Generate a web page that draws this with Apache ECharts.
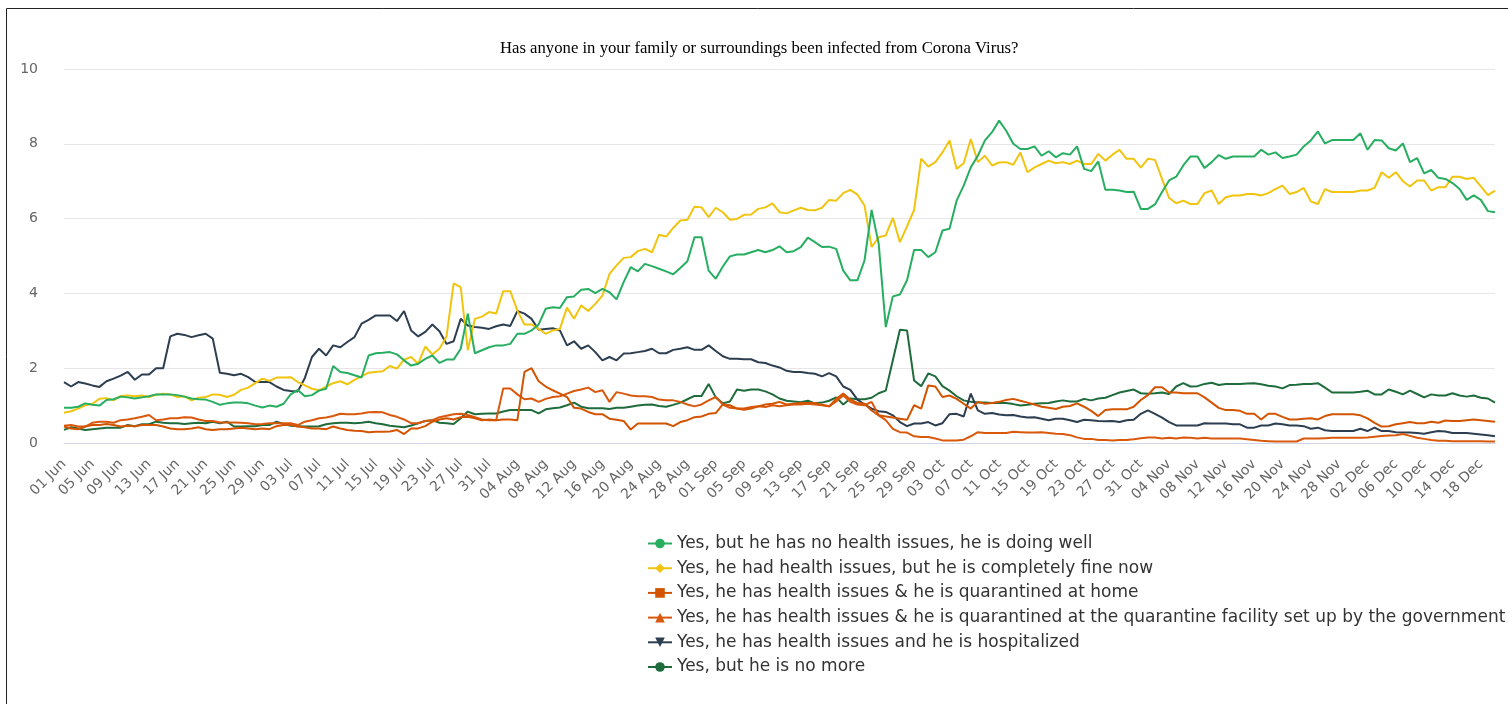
<!DOCTYPE html>
<html>
<head>
<meta charset="utf-8">
<title>Corona Virus survey</title>
<script src="https://cdn.jsdelivr.net/npm/echarts@6/dist/echarts.min.js"></script>
<style>
  html, body { margin: 0; padding: 0; background: #fff; }
  #chart { width: 1508px; height: 704px; }
</style>
</head>
<body>
<div id="chart"></div>
<script>
// daily points, 01 Jun .. 20 Dec
const startDay = Date.UTC(2020, 5, 1);
const dayCount = 203;
const monthNames = ['Jan', 'Feb', 'Mar', 'Apr', 'May', 'Jun', 'Jul', 'Aug', 'Sep', 'Oct', 'Nov', 'Dec'];

const seriesNames = [
  'Yes, but he has no health issues, he is doing well',
  'Yes, he had health issues, but he is completely fine now',
  'Yes, he has health issues & he is quarantined at home',
  'Yes, he has health issues & he is quarantined at the quarantine facility set up by the government',
  'Yes, he has health issues and he is hospitalized',
  'Yes, but he is no more'
];

const doingWell = [
  0.94, 0.94, 0.97, 1.06, 1.02, 1.00, 1.15, 1.17, 1.24, 1.22,
  1.19, 1.22, 1.25, 1.30, 1.30, 1.30, 1.28, 1.24, 1.19, 1.17,
  1.16, 1.10, 1.02, 1.06, 1.08, 1.08, 1.06, 1.00, 0.95, 1.00,
  0.97, 1.05, 1.30, 1.42, 1.25, 1.28, 1.40, 1.45, 2.06, 1.90,
  1.87, 1.81, 1.75, 2.34, 2.40, 2.41, 2.43, 2.37, 2.21, 2.07,
  2.12, 2.25, 2.34, 2.14, 2.23, 2.23, 2.52, 3.46, 2.40, 2.48,
  2.56, 2.61, 2.61, 2.65, 2.92, 2.92, 3.01, 3.17, 3.59, 3.63,
  3.61, 3.90, 3.92, 4.10, 4.12, 4.01, 4.12, 4.03, 3.84, 4.30,
  4.70, 4.59, 4.79, 4.73, 4.66, 4.59, 4.51, 4.68, 4.86, 5.50,
  5.50, 4.61, 4.39, 4.72, 4.99, 5.04, 5.04, 5.10, 5.16, 5.10,
  5.16, 5.26, 5.10, 5.13, 5.24, 5.49, 5.37, 5.24, 5.25, 5.19,
  4.61, 4.35, 4.35, 4.88, 6.23, 5.33, 3.10, 3.92, 3.97, 4.35,
  5.16, 5.16, 4.97, 5.10, 5.68, 5.73, 6.48, 6.88, 7.37, 7.68,
  8.09, 8.31, 8.62, 8.35, 8.00, 7.86, 7.86, 7.93, 7.68, 7.80,
  7.64, 7.75, 7.71, 7.93, 7.33, 7.27, 7.53, 6.77, 6.77, 6.75,
  6.71, 6.72, 6.26, 6.26, 6.38, 6.71, 7.02, 7.12, 7.42, 7.66,
  7.66, 7.35, 7.51, 7.70, 7.60, 7.66, 7.66, 7.66, 7.66, 7.84,
  7.71, 7.77, 7.62, 7.66, 7.71, 7.93, 8.09, 8.33, 8.01, 8.10,
  8.10, 8.10, 8.10, 8.28, 7.84, 8.10, 8.09, 7.88, 7.82, 8.01,
  7.51, 7.62, 7.21, 7.30, 7.09, 7.06, 6.95, 6.79, 6.50, 6.62,
  6.50, 6.20, 6.17
];

const fineNow = [
  0.81, 0.85, 0.92, 1.01, 1.05, 1.18, 1.20, 1.14, 1.26, 1.27,
  1.25, 1.27, 1.23, 1.29, 1.32, 1.30, 1.23, 1.25, 1.14, 1.21,
  1.23, 1.30, 1.29, 1.23, 1.29, 1.42, 1.48, 1.60, 1.72, 1.66,
  1.75, 1.75, 1.76, 1.63, 1.54, 1.45, 1.41, 1.51, 1.60, 1.65,
  1.57, 1.69, 1.78, 1.88, 1.90, 1.92, 2.06, 1.99, 2.23, 2.30,
  2.12, 2.58, 2.37, 2.52, 2.85, 4.27, 4.17, 2.48, 3.32, 3.38,
  3.50, 3.46, 4.06, 4.06, 3.54, 3.17, 3.17, 3.05, 2.92, 3.01,
  3.05, 3.62, 3.32, 3.68, 3.53, 3.72, 3.94, 4.52, 4.75, 4.95,
  4.97, 5.13, 5.19, 5.10, 5.57, 5.52, 5.75, 5.95, 5.97, 6.32,
  6.30, 6.04, 6.29, 6.17, 5.97, 5.99, 6.10, 6.11, 6.26, 6.30,
  6.41, 6.17, 6.14, 6.22, 6.29, 6.23, 6.22, 6.29, 6.50, 6.48,
  6.68, 6.77, 6.64, 6.35, 5.24, 5.50, 5.55, 6.02, 5.37, 5.79,
  6.23, 7.60, 7.39, 7.51, 7.77, 8.09, 7.33, 7.48, 8.13, 7.51,
  7.68, 7.42, 7.50, 7.51, 7.44, 7.77, 7.24, 7.37, 7.46, 7.55,
  7.48, 7.51, 7.46, 7.55, 7.46, 7.46, 7.73, 7.55, 7.71, 7.84,
  7.60, 7.60, 7.36, 7.60, 7.57, 7.06, 6.55, 6.41, 6.48, 6.39,
  6.39, 6.68, 6.75, 6.39, 6.57, 6.62, 6.62, 6.66, 6.66, 6.62,
  6.68, 6.79, 6.88, 6.66, 6.71, 6.82, 6.46, 6.39, 6.79, 6.71,
  6.71, 6.71, 6.71, 6.75, 6.75, 6.82, 7.24, 7.09, 7.24, 7.00,
  6.86, 7.02, 7.02, 6.75, 6.84, 6.84, 7.12, 7.12, 7.06, 7.09,
  6.86, 6.63, 6.75
];

const atHome = [
  0.44, 0.39, 0.37, 0.44, 0.48, 0.48, 0.51, 0.48, 0.44, 0.46,
  0.45, 0.48, 0.48, 0.48, 0.44, 0.39, 0.37, 0.37, 0.39, 0.42,
  0.37, 0.35, 0.37, 0.37, 0.39, 0.41, 0.39, 0.37, 0.39, 0.37,
  0.45, 0.48, 0.48, 0.44, 0.42, 0.39, 0.39, 0.37, 0.44, 0.39,
  0.35, 0.33, 0.32, 0.29, 0.30, 0.30, 0.31, 0.35, 0.24, 0.39,
  0.39, 0.45, 0.57, 0.63, 0.66, 0.63, 0.69, 0.70, 0.66, 0.61,
  0.63, 0.61, 0.63, 0.63, 0.61, 1.90, 2.00, 1.65, 1.51, 1.41,
  1.32, 1.23, 0.94, 0.92, 0.83, 0.77, 0.77, 0.65, 0.62, 0.59,
  0.36, 0.52, 0.52, 0.52, 0.52, 0.52, 0.45, 0.56, 0.61, 0.69,
  0.71, 0.78, 0.80, 1.03, 1.01, 0.92, 0.89, 0.92, 0.98, 1.03,
  1.05, 1.10, 1.03, 1.05, 1.07, 1.07, 1.07, 1.02, 0.98, 1.18,
  1.32, 1.16, 1.07, 1.05, 0.87, 0.74, 0.71, 0.68, 0.65, 0.62,
  1.01, 0.92, 1.54, 1.51, 1.23, 1.27, 1.18, 1.05, 0.92, 1.10,
  1.05, 1.07, 1.10, 1.15, 1.18, 1.13, 1.08, 1.03, 0.97, 0.94,
  0.91, 0.97, 0.99, 1.06, 0.97, 0.86, 0.72, 0.88, 0.90, 0.90,
  0.90, 0.97, 1.15, 1.28, 1.49, 1.49, 1.35, 1.35, 1.33, 1.33,
  1.33, 1.22, 1.08, 0.94, 0.88, 0.88, 0.86, 0.78, 0.78, 0.63,
  0.78, 0.78, 0.70, 0.63, 0.63, 0.65, 0.66, 0.63, 0.72, 0.77,
  0.77, 0.77, 0.77, 0.74, 0.66, 0.54, 0.44, 0.45, 0.50, 0.53,
  0.56, 0.53, 0.53, 0.57, 0.54, 0.60, 0.59, 0.59, 0.61, 0.63,
  0.61, 0.59, 0.57
];

const atFacility = [
  0.46, 0.48, 0.44, 0.44, 0.54, 0.57, 0.57, 0.54, 0.61, 0.63,
  0.66, 0.70, 0.75, 0.61, 0.63, 0.66, 0.66, 0.69, 0.68, 0.63,
  0.59, 0.59, 0.55, 0.55, 0.55, 0.54, 0.53, 0.50, 0.51, 0.53,
  0.53, 0.53, 0.53, 0.48, 0.57, 0.61, 0.66, 0.68, 0.72, 0.78,
  0.77, 0.77, 0.79, 0.82, 0.83, 0.82, 0.75, 0.70, 0.63, 0.53,
  0.53, 0.59, 0.61, 0.69, 0.73, 0.77, 0.78, 0.75, 0.69, 0.63,
  0.61, 0.61, 1.46, 1.46, 1.30, 1.17, 1.19, 1.10, 1.18, 1.23,
  1.25, 1.32, 1.39, 1.43, 1.48, 1.36, 1.41, 1.10, 1.36, 1.32,
  1.27, 1.25, 1.25, 1.23, 1.16, 1.14, 1.14, 1.10, 1.03, 0.98,
  1.03, 1.14, 1.23, 1.03, 0.94, 0.92, 0.92, 0.96, 0.98, 0.96,
  1.01, 0.98, 1.01, 1.03, 1.03, 1.05, 1.03, 1.01, 0.98, 1.11,
  1.27, 1.10, 1.03, 1.01, 1.10, 0.74, 0.61, 0.38, 0.29, 0.28,
  0.18, 0.16, 0.16, 0.12, 0.07, 0.07, 0.07, 0.09, 0.18, 0.29,
  0.27, 0.27, 0.27, 0.27, 0.30, 0.29, 0.28, 0.28, 0.29, 0.27,
  0.25, 0.24, 0.21, 0.15, 0.11, 0.11, 0.08, 0.08, 0.07, 0.08,
  0.08, 0.10, 0.13, 0.15, 0.15, 0.12, 0.14, 0.12, 0.15, 0.14,
  0.12, 0.14, 0.12, 0.12, 0.12, 0.12, 0.12, 0.10, 0.08, 0.06,
  0.05, 0.04, 0.04, 0.04, 0.04, 0.12, 0.12, 0.12, 0.13, 0.14,
  0.14, 0.14, 0.14, 0.14, 0.15, 0.17, 0.19, 0.20, 0.21, 0.24,
  0.19, 0.14, 0.11, 0.08, 0.06, 0.06, 0.05, 0.05, 0.05, 0.05,
  0.05, 0.04, 0.04
];

const hospitalized = [
  1.63, 1.51, 1.63, 1.59, 1.54, 1.50, 1.65, 1.72, 1.80, 1.90,
  1.69, 1.83, 1.83, 2.00, 2.00, 2.85, 2.92, 2.89, 2.83, 2.88,
  2.92, 2.79, 1.88, 1.85, 1.81, 1.85, 1.76, 1.63, 1.63, 1.63,
  1.51, 1.42, 1.39, 1.38, 1.74, 2.30, 2.52, 2.34, 2.61, 2.56,
  2.70, 2.83, 3.19, 3.29, 3.41, 3.41, 3.41, 3.26, 3.53, 3.01,
  2.85, 2.97, 3.17, 2.99, 2.65, 2.72, 3.32, 3.14, 3.10, 3.08,
  3.05, 3.12, 3.17, 3.13, 3.53, 3.46, 3.32, 3.03, 3.05, 3.07,
  3.01, 2.61, 2.72, 2.52, 2.61, 2.43, 2.21, 2.30, 2.21, 2.39,
  2.40, 2.43, 2.46, 2.52, 2.40, 2.40, 2.49, 2.52, 2.56, 2.49,
  2.49, 2.61, 2.46, 2.32, 2.25, 2.25, 2.24, 2.24, 2.16, 2.14,
  2.07, 2.02, 1.93, 1.90, 1.90, 1.87, 1.85, 1.78, 1.87, 1.78,
  1.51, 1.42, 1.16, 1.03, 0.92, 0.85, 0.83, 0.74, 0.56, 0.45,
  0.52, 0.52, 0.56, 0.47, 0.53, 0.77, 0.78, 0.71, 1.32, 0.87,
  0.78, 0.80, 0.76, 0.74, 0.75, 0.71, 0.68, 0.69, 0.65, 0.61,
  0.65, 0.65, 0.61, 0.56, 0.62, 0.61, 0.59, 0.58, 0.59, 0.56,
  0.61, 0.62, 0.78, 0.87, 0.78, 0.68, 0.56, 0.47, 0.47, 0.47,
  0.47, 0.53, 0.52, 0.52, 0.52, 0.50, 0.50, 0.41, 0.41, 0.47,
  0.47, 0.52, 0.50, 0.47, 0.47, 0.45, 0.38, 0.41, 0.34, 0.32,
  0.32, 0.32, 0.32, 0.38, 0.32, 0.41, 0.32, 0.32, 0.29, 0.28,
  0.28, 0.27, 0.25, 0.29, 0.32, 0.31, 0.27, 0.27, 0.27, 0.25,
  0.23, 0.21, 0.18
];

const noMore = [
  0.35, 0.42, 0.39, 0.35, 0.37, 0.39, 0.41, 0.41, 0.41, 0.48,
  0.45, 0.50, 0.50, 0.57, 0.54, 0.53, 0.53, 0.51, 0.53, 0.54,
  0.53, 0.57, 0.53, 0.57, 0.44, 0.44, 0.45, 0.45, 0.48, 0.48,
  0.57, 0.51, 0.46, 0.45, 0.44, 0.44, 0.45, 0.50, 0.53, 0.54,
  0.54, 0.53, 0.54, 0.57, 0.53, 0.50, 0.46, 0.44, 0.42, 0.47,
  0.53, 0.59, 0.61, 0.54, 0.53, 0.51, 0.66, 0.84, 0.77, 0.78,
  0.79, 0.79, 0.84, 0.88, 0.88, 0.88, 0.88, 0.79, 0.90, 0.93,
  0.95, 1.01, 1.08, 0.97, 0.93, 0.93, 0.93, 0.91, 0.94, 0.94,
  0.97, 1.00, 1.02, 1.03, 0.99, 0.97, 1.02, 1.08, 1.17, 1.26,
  1.26, 1.58, 1.22, 1.06, 1.11, 1.43, 1.40, 1.43, 1.43, 1.38,
  1.30, 1.19, 1.13, 1.11, 1.09, 1.13, 1.06, 1.08, 1.13, 1.22,
  1.03, 1.19, 1.17, 1.17, 1.21, 1.33, 1.40, 2.21, 3.03, 3.01,
  1.67, 1.52, 1.86, 1.78, 1.52, 1.40, 1.25, 1.14, 1.10, 1.08,
  1.08, 1.07, 1.07, 1.07, 1.04, 1.00, 1.02, 1.05, 1.06, 1.07,
  1.11, 1.14, 1.11, 1.11, 1.18, 1.14, 1.19, 1.21, 1.28, 1.35,
  1.39, 1.43, 1.33, 1.32, 1.33, 1.35, 1.31, 1.51, 1.60, 1.51,
  1.52, 1.58, 1.61, 1.55, 1.58, 1.58, 1.58, 1.59, 1.60, 1.57,
  1.53, 1.51, 1.46, 1.55, 1.56, 1.58, 1.58, 1.60, 1.48, 1.35,
  1.35, 1.35, 1.35, 1.37, 1.40, 1.30, 1.30, 1.43, 1.37, 1.30,
  1.40, 1.31, 1.22, 1.30, 1.27, 1.27, 1.33, 1.27, 1.24, 1.27,
  1.21, 1.19, 1.08
];

const yTicks = [0, 10, 2]; // min, max, interval

const dates = [];
for (let i = 0; i < dayCount; i++) {
  const d = new Date(startDay + i * 86400000);
  dates.push(String(d.getUTCDate()).padStart(2, '0') + ' ' + monthNames[d.getUTCMonth()]);
}

const chart = echarts.init(document.getElementById('chart'), null, { renderer: 'canvas' });

const colors = ['#27ae60', '#f1c40f', '#d35400', '#d9580c', '#2c3e50', '#1e6b3b'];
const symbols = ['circle', 'diamond', 'rect', 'triangle', 'path://M0,0 L10,0 L5,9 Z', 'circle'];
const values = [doingWell, fineNow, atHome, atFacility, hospitalized, noMore];

function makeSeries(i) {
  return {
    name: seriesNames[i],
    type: 'line',
    data: values[i],
    symbol: symbols[i],
    symbolSize: 8,
    showSymbol: false,
    lineStyle: { width: 2, color: colors[i] },
    itemStyle: { color: colors[i] },
    emphasis: { disabled: true },
    z: 10 - i
  };
}

const option = {
  animation: false,
  color: colors,
  title: {
    text: 'Has anyone in your family or surroundings been infected from Corona Virus?',
    left: 495,
    top: 35,
    textStyle: {
      fontFamily: 'Liberation Serif',
      fontSize: 16.7,
      fontWeight: 'normal',
      color: '#000'
    }
  },
  graphic: [{
    type: 'rect',
    shape: { x: 6.5, y: 8.5, width: 1600, height: 800 },
    style: { fill: 'none', stroke: '#222', lineWidth: 1 },
    silent: true
  }],
  legend: {
    orient: 'vertical',
    left: 642,
    top: 530,
    itemWidth: 24,
    itemHeight: 12,
    itemGap: 7.7,
    textStyle: {
      fontFamily: 'DejaVu Sans',
      fontSize: 17,
      color: '#333'
    },
    data: seriesNames
  },
  grid: {
    left: 64,
    right: 13,
    top: 69,
    bottom: 261,
    containLabel: false
  },
  xAxis: {
    type: 'category',
    data: dates,
    boundaryGap: false,
    axisLine: { lineStyle: { color: '#ccd6eb', width: 1 } },
    axisTick: { show: false },
    axisLabel: {
      interval: 3,
      rotate: 45,
      margin: 19,
      color: '#666',
      fontFamily: 'DejaVu Sans',
      fontSize: 14
    },
    splitLine: { show: false }
  },
  yAxis: {
    type: 'value',
    min: yTicks[0],
    max: yTicks[1],
    interval: yTicks[2],
    axisLine: { show: false },
    axisTick: { show: false },
    axisLabel: {
      margin: 26,
      color: '#666',
      fontFamily: 'DejaVu Sans',
      fontSize: 14
    },
    splitLine: { lineStyle: { color: '#e6e6e6', width: 1 } }
  },
  series: [0, 1, 2, 3, 4, 5].map(makeSeries)
};

chart.setOption(option);
</script>
</body>
</html>
